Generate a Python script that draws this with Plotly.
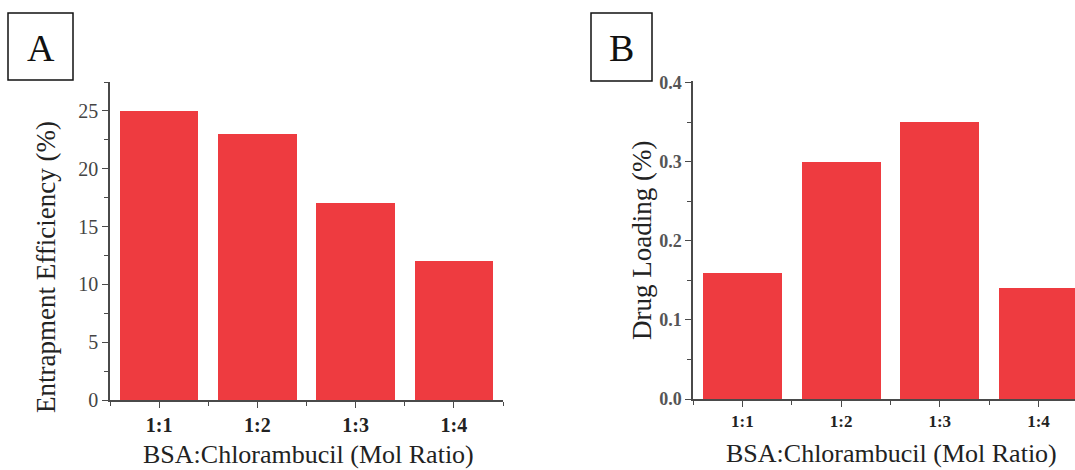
import plotly.graph_objects as go

categories = ["1:1", "1:2", "1:3", "1:4"]
entrapment_efficiency = [25, 23, 17, 12]
drug_loading = [0.16, 0.30, 0.35, 0.14]
y_ticks_a = [0, 5, 10, 15, 20, 25]
y_ticks_b = [0.0, 0.1, 0.2, 0.3, 0.4]
y_ticktext_b = ["0.0", "0.1", "0.2", "0.3", "0.4"]

W, H = 1075, 470
BAR = "#EE3B40"
AX = "#4a4a4a"
FONT = "Liberation Serif"

def px_x(x):
    return x / W

def px_y(y):
    return 1 - y / H

xpos = list(range(len(categories)))

fig = go.Figure()
fig.add_trace(go.Bar(x=xpos, y=entrapment_efficiency, width=0.8,
                     marker=dict(color=BAR, line=dict(width=0)),
                     xaxis="x", yaxis="y", showlegend=False))
fig.add_trace(go.Bar(x=xpos, y=drug_loading, width=0.8,
                     marker=dict(color=BAR, line=dict(width=0)),
                     xaxis="x2", yaxis="y2", showlegend=False))

common_x = dict(showgrid=False, zeroline=False, showline=True, linecolor=AX, linewidth=1.5,
                automargin=False,
                ticks="outside", ticklen=6, tickwidth=1.2, tickcolor=AX,
                tickmode="array", tickvals=xpos, ticktext=categories,
                minor=dict(tickmode="array", tickvals=[-0.5, 0.5, 1.5, 2.5, 3.5],
                           ticks="outside", ticklen=4, tickwidth=1.2, tickcolor=AX))
common_y = dict(showgrid=False, zeroline=False, showline=True, linecolor=AX, linewidth=1.5,
                automargin=False,
                ticks="outside", ticklen=6, tickwidth=1.2, tickcolor=AX)

fig.update_layout(
    template="none",
    width=W, height=H, margin=dict(l=0, r=0, t=0, b=0, pad=0), autosize=False,
    plot_bgcolor="white", paper_bgcolor="white",
    bargap=0,
    font=dict(family=FONT, color="#222"),
    xaxis=dict(domain=[px_x(110), px_x(503)], range=[-0.5, 3.5], anchor="y",
               tickfont=dict(family=FONT, size=20, color="#222", weight="bold"), **common_x),
    yaxis=dict(domain=[px_y(400), px_y(82)], range=[0, 27.5], anchor="x",
               tickmode="array", tickvals=y_ticks_a,
               tickfont=dict(family=FONT, size=20, color="#444"),
               minor=dict(dtick=2.5, tick0=0, ticks="outside", ticklen=4, tickwidth=1.2, tickcolor=AX),
               **common_y),
    xaxis2=dict(domain=[px_x(693), 1.0], range=[-0.5, 3.37], anchor="y2",
                tickfont=dict(family=FONT, size=17, color="#222", weight="bold"), **common_x),
    yaxis2=dict(domain=[px_y(399), px_y(81)], range=[0, 0.4025], anchor="x2",
                tickmode="array", tickvals=y_ticks_b, ticktext=y_ticktext_b,
                tickfont=dict(family=FONT, size=18, color="#555", weight="bold"),
                minor=dict(dtick=0.05, tick0=0, ticks="outside", ticklen=4, tickwidth=1.2, tickcolor=AX),
                **common_y),
)

def note(text, x, y, size, angle=0, color="#222"):
    fig.add_annotation(text=text, x=px_x(x), y=px_y(y), xref="paper", yref="paper",
                       xanchor="center", yanchor="middle", showarrow=False,
                       textangle=angle, font=dict(family=FONT, size=size, color=color))

# Axis titles
note("BSA:Chlorambucil (Mol Ratio)", 308, 454, 26)
note("BSA:Chlorambucil (Mol Ratio)", 891, 453, 26)
note("Entrapment Efficiency (%)", 46, 267, 27, angle=-90)
note("Drug Loading (%)", 642, 241, 27, angle=-90)

# Panel labels in boxes
for label, x0, x1, y0, y1 in [("A", 8, 73, 13, 80), ("B", 591, 652, 13, 81)]:
    fig.add_shape(type="rect", xref="paper", yref="paper",
                  x0=px_x(x0), x1=px_x(x1), y0=px_y(y1), y1=px_y(y0),
                  line=dict(color="#111", width=1.5), fillcolor="white")
    note(label, (x0 + x1) / 2, (y0 + y1) / 2 + 1, 38, color="#111")

fig.write_html("out.html")
